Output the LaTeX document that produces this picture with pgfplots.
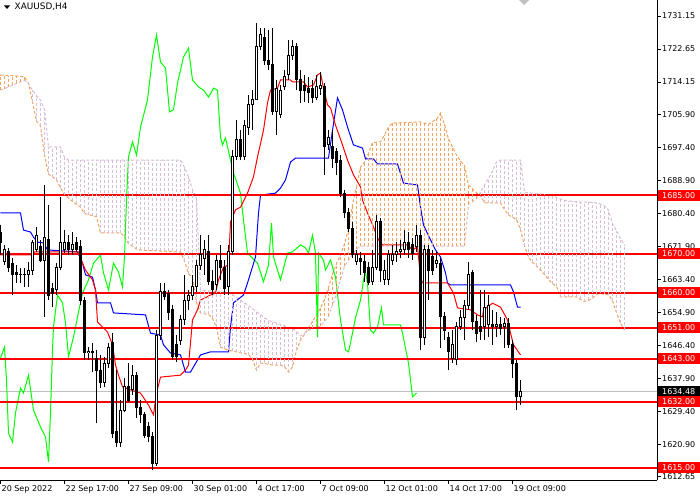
\documentclass[border=0pt]{standalone}
\usepackage{fontspec}
\setmainfont{DejaVu Sans}
\usepackage{pgfplots}
\pgfplotsset{compat=1.18}
\usepackage{pgfplotstable}

\definecolor{sandy}{RGB}{244,164,96}
\definecolor{thistl}{RGB}{216,191,216}
\definecolor{chikou}{RGB}{0,255,0}
\definecolor{kijun}{RGB}{0,0,255}
\definecolor{tenkan}{RGB}{255,0,0}
\definecolor{lvl}{RGB}{255,0,0}
\definecolor{pricegray}{RGB}{192,192,192}

% candle parts and cloud hatch; 3.8888pt per dollar on the price axis
\pgfdeclareplotmark{wick}{%
  \pgfmathsetlengthmacro\wl{\wicklen*3.8888}%
  \pgfpathmoveto{\pgfqpoint{0pt}{0pt}}%
  \pgfpathlineto{\pgfqpoint{0pt}{\wl}}%
  \pgfusepathqstroke}
\pgfdeclareplotmark{body}{%
  \pgfmathsetlengthmacro\bl{\bodylen*3.8888+1}%
  \pgfpathrectangle{\pgfqpoint{-1.5pt}{-0.5pt}}{\pgfqpoint{3pt}{\bl}}%
  \pgfusepathqfill}
\pgfdeclareplotmark{hollow}{%
  \pgfmathsetlengthmacro\hl{\bodyup*3.8888-1}%
  \ifdim\hl>0pt
    \pgfpathrectangle{\pgfqpoint{-0.5pt}{0.5pt}}{\pgfqpoint{1pt}{\hl}}%
    \pgfusepathqfill
  \fi}
\pgfdeclareplotmark{hatch}{%
  \pgfmathsetlengthmacro\ch{\cloudh*3.8888}%
  \ifdim\ch>0.6pt
    \pgfsetdash{{3pt}{2pt}}{0pt}%
    \pgfpathmoveto{\pgfqpoint{0pt}{0pt}}%
    \pgfpathlineto{\pgfqpoint{0pt}{\ch}}%
    \pgfusepathqstroke
  \fi}

% XAUUSD H4 bars: index, open, high, low, close
\pgfplotstableread{
i o h l c
0 1675.6 1677.4 1669.7 1673.0
1 1667.9 1672.3 1667.1 1671.0
2 1670.5 1671.5 1665.3 1666.4
3 1667.6 1668.9 1659.4 1664.6
4 1665.1 1667.1 1662.5 1664.8
5 1664.8 1666.4 1662.5 1664.6
6 1664.6 1666.4 1661.5 1664.8
7 1664.6 1667.9 1661.5 1665.8
8 1665.8 1673.6 1664.6 1673.0
9 1671.0 1676.9 1670.5 1674.8
10 1671.8 1673.6 1667.9 1668.4
11 1668.4 1687.7 1653.8 1674.3
12 1673.6 1682.6 1658.1 1659.4
13 1661.2 1662.5 1656.3 1659.9
14 1660.7 1667.6 1659.4 1666.4
15 1666.4 1684.6 1665.8 1673.0
16 1671.0 1676.1 1670.2 1672.8
17 1672.8 1674.8 1669.7 1671.0
18 1671.0 1675.6 1669.7 1672.3
19 1672.8 1674.3 1670.5 1671.0
20 1671.8 1673.6 1656.8 1658.1
21 1658.1 1658.9 1642.7 1644.5
22 1644.5 1646.0 1642.7 1644.8
23 1644.8 1647.1 1639.6 1644.5
24 1643.2 1645.3 1626.5 1640.1
25 1640.1 1644.0 1635.5 1636.8
26 1636.8 1643.5 1635.8 1641.9
27 1641.9 1647.1 1640.6 1646.0
28 1647.1 1649.6 1622.6 1623.9
29 1624.2 1640.1 1620.3 1621.4
30 1621.4 1632.4 1620.3 1629.8
31 1629.8 1638.1 1629.3 1635.8
32 1635.8 1641.9 1631.9 1632.4
33 1635.0 1641.4 1633.7 1638.8
34 1638.8 1639.6 1627.8 1630.6
35 1630.6 1632.4 1626.5 1628.6
36 1628.6 1629.3 1622.6 1623.4
37 1625.5 1626.8 1621.6 1622.9
38 1622.9 1624.2 1614.4 1616.2
39 1616.2 1650.4 1615.4 1649.1
40 1649.1 1662.5 1647.8 1660.2
41 1660.2 1662.5 1658.1 1658.9
42 1659.9 1660.7 1653.0 1655.0
43 1655.6 1656.8 1642.7 1643.5
44 1646.6 1649.1 1642.2 1643.5
45 1647.8 1654.3 1646.6 1653.0
46 1653.0 1664.6 1651.7 1658.1
47 1658.1 1660.7 1655.6 1659.4
48 1659.4 1664.6 1658.1 1661.5
49 1661.5 1668.4 1660.2 1667.1
50 1667.1 1674.8 1665.8 1669.7
51 1668.9 1673.6 1664.6 1671.0
52 1670.5 1674.8 1662.0 1662.8
53 1662.8 1665.8 1659.4 1660.7
54 1662.0 1669.7 1660.7 1668.4
55 1668.4 1672.3 1663.3 1666.6
56 1666.6 1668.4 1659.4 1661.2
57 1661.5 1672.3 1659.4 1670.5
58 1670.5 1696.7 1669.7 1694.9
59 1694.9 1704.4 1694.1 1699.3
60 1699.3 1701.8 1694.1 1694.9
61 1694.9 1704.4 1694.1 1703.1
62 1702.6 1710.8 1700.6 1708.3
63 1708.3 1712.1 1701.8 1709.8
64 1709.8 1729.4 1709.6 1723.2
65 1723.2 1728.1 1722.4 1726.3
66 1725.5 1728.1 1718.6 1719.8
67 1719.8 1727.6 1717.3 1718.6
68 1718.6 1728.1 1705.7 1706.5
69 1706.5 1714.7 1700.6 1712.6
70 1705.7 1713.4 1704.9 1712.1
71 1712.9 1717.3 1712.1 1715.5
72 1716.0 1725.0 1714.7 1721.1
73 1721.1 1725.0 1719.8 1723.2
74 1723.2 1724.2 1712.1 1714.7
75 1714.7 1717.3 1708.8 1712.1
76 1713.4 1716.0 1709.0 1712.1
77 1712.6 1715.5 1708.8 1711.6
78 1712.6 1714.7 1708.8 1710.3
79 1710.3 1716.0 1709.6 1712.9
80 1712.6 1716.8 1710.8 1713.4
81 1712.9 1713.9 1690.3 1697.5
82 1698.0 1701.8 1696.7 1699.8
83 1697.5 1701.8 1692.1 1694.6
84 1696.2 1697.2 1690.3 1693.6
85 1694.1 1695.4 1684.6 1685.6
86 1685.6 1686.4 1679.2 1680.5
87 1680.5 1681.8 1675.6 1676.6
88 1676.6 1678.2 1668.9 1669.7
89 1667.9 1671.0 1667.1 1669.7
90 1668.9 1670.5 1664.6 1667.9
91 1667.9 1669.7 1662.8 1665.1
92 1666.4 1667.9 1662.0 1662.5
93 1662.8 1671.0 1662.0 1666.6
94 1666.6 1680.0 1665.8 1678.2
95 1678.2 1679.2 1662.8 1665.8
96 1663.3 1668.4 1662.0 1665.8
97 1663.3 1671.0 1662.0 1669.7
98 1668.4 1672.3 1667.1 1669.7
99 1669.7 1673.0 1667.9 1670.5
100 1670.5 1673.6 1668.9 1671.0
101 1671.0 1676.1 1669.7 1672.8
102 1672.8 1675.6 1668.9 1671.0
103 1672.3 1674.1 1668.4 1670.2
104 1671.8 1677.4 1670.5 1674.8
105 1674.8 1676.1 1645.3 1648.4
106 1648.4 1672.3 1646.6 1671.0
107 1671.0 1672.3 1658.1 1665.8
108 1669.2 1671.0 1664.6 1665.8
109 1667.6 1670.5 1666.4 1668.4
110 1667.6 1668.9 1645.8 1653.8
111 1653.8 1655.0 1647.8 1650.4
112 1648.4 1649.9 1640.1 1644.8
113 1643.2 1650.4 1641.9 1646.6
114 1642.7 1652.5 1641.4 1651.2
115 1651.2 1655.6 1650.4 1653.5
116 1653.5 1658.1 1647.8 1656.8
117 1656.8 1667.9 1655.6 1664.6
118 1665.1 1665.8 1650.4 1652.5
119 1652.5 1654.3 1647.3 1649.6
120 1651.2 1660.7 1647.8 1649.9
121 1651.2 1660.7 1647.8 1656.3
122 1651.7 1659.4 1648.6 1656.8
123 1651.7 1655.6 1646.6 1651.2
124 1651.2 1655.0 1648.6 1651.7
125 1651.7 1653.8 1649.1 1650.9
126 1651.2 1653.5 1645.8 1652.2
127 1652.2 1653.5 1645.8 1646.6
128 1646.6 1647.8 1638.1 1641.9
129 1641.9 1642.7 1629.8 1633.2
130 1633.2 1637.6 1631.1 1634.48
}\candles

% Ichimoku cloud: Senkou span A and B at each bar
\pgfplotstableread{
x a b
0 1716.0 1712.1
1 1715.9 1712.5
2 1715.8 1712.9
3 1715.8 1713.4
4 1715.7 1713.8
5 1715.6 1714.2
6 1715.5 1714.6
7 1713.9 1713.8
8 1709.0 1712.0
9 1704.1 1710.7
10 1702.9 1709.5
11 1695.4 1707.1
12 1690.5 1697.5
13 1689.8 1697.5
14 1689.0 1697.5
15 1687.0 1697.5
16 1685.2 1694.8
17 1684.3 1694.1
18 1683.5 1694.1
19 1682.7 1694.1
20 1682.0 1694.1
21 1680.4 1694.1
22 1680.1 1694.1
23 1679.8 1694.1
24 1679.6 1694.1
25 1675.4 1694.1
26 1675.4 1694.1
27 1675.4 1694.1
28 1675.4 1694.1
29 1675.4 1694.1
30 1675.4 1694.1
31 1674.4 1694.1
32 1672.6 1694.1
33 1672.0 1694.1
34 1671.2 1694.1
35 1671.0 1694.1
36 1670.9 1694.1
37 1670.9 1694.1
38 1670.8 1694.1
39 1670.8 1694.1
40 1670.7 1694.1
41 1670.7 1694.1
42 1670.6 1694.1
43 1670.6 1694.1
44 1670.5 1694.1
45 1670.5 1694.1
46 1668.2 1692.2
47 1664.9 1689.9
48 1663.8 1686.4
49 1657.5 1684.3
50 1654.8 1660.7
51 1654.6 1660.6
52 1654.4 1660.5
53 1653.4 1660.4
54 1651.1 1660.3
55 1646.0 1660.2
56 1645.6 1660.1
57 1645.2 1660.0
58 1645.0 1659.5
59 1644.8 1658.8
60 1644.6 1658.1
61 1644.4 1657.4
62 1644.1 1656.7
63 1642.8 1655.9
64 1640.1 1655.1
65 1641.9 1654.4
66 1641.8 1653.6
67 1641.6 1652.9
68 1641.4 1652.5
69 1641.4 1652.2
70 1641.4 1651.8
71 1641.0 1651.5
72 1639.6 1651.1
73 1640.9 1650.7
74 1645.2 1650.1
75 1647.8 1648.9
76 1649.3 1649.6
77 1650.8 1650.3
78 1652.6 1650.8
79 1654.3 1651.1
80 1656.1 1651.4
81 1658.3 1652.6
82 1661.4 1653.9
83 1664.8 1656.9
84 1667.5 1659.6
85 1669.7 1663.3
86 1672.6 1666.8
87 1676.4 1668.4
88 1682.6 1669.9
89 1687.3 1671.2
90 1692.3 1672.0
91 1693.6 1672.0
92 1695.9 1672.0
93 1698.6 1672.0
94 1698.7 1672.0
95 1698.8 1672.0
96 1700.6 1672.0
97 1702.6 1672.0
98 1703.6 1672.0
99 1703.7 1672.0
100 1703.7 1672.0
101 1703.8 1672.0
102 1703.8 1672.0
103 1703.8 1672.0
104 1703.9 1672.0
105 1703.9 1672.0
106 1703.6 1672.0
107 1703.3 1672.0
108 1704.0 1672.0
109 1704.6 1672.0
110 1706.2 1672.0
111 1703.3 1672.0
112 1699.5 1672.0
113 1697.5 1672.0
114 1695.4 1672.0
115 1693.9 1672.0
116 1692.6 1672.0
117 1687.7 1682.9
118 1686.7 1683.4
119 1685.7 1684.2
120 1685.0 1685.9
121 1683.1 1687.7
122 1683.1 1689.4
123 1683.1 1691.3
124 1683.1 1693.6
125 1683.1 1694.1
126 1681.4 1694.1
127 1680.0 1694.1
128 1679.4 1694.1
129 1678.8 1694.1
130 1676.2 1694.1
131 1672.0 1685.8
132 1669.1 1685.7
133 1667.8 1685.6
134 1666.9 1685.5
135 1665.8 1685.4
136 1664.7 1685.3
137 1663.4 1685.2
138 1662.3 1684.9
139 1661.7 1684.5
140 1658.9 1684.1
141 1658.9 1683.8
142 1658.9 1683.6
143 1658.9 1683.5
144 1658.9 1683.4
145 1658.3 1683.3
146 1657.7 1683.3
147 1658.0 1683.2
148 1658.6 1683.2
149 1659.6 1683.1
150 1659.8 1682.8
151 1659.6 1682.3
152 1659.5 1681.2
153 1657.9 1677.8
154 1654.9 1675.9
155 1652.2 1673.9
156 1650.4 1672.3
}\cloud

% Tenkan-sen
\pgfplotstableread{
x y
0 1669.7
8 1669.7
8.5 1670.5
19.5 1670.5
20 1668.9
21.25 1665.8
23 1663.3
23.75 1660.7
24.25 1652.5
25 1651.7
26.75 1649.9
28 1646.6
28.75 1641.4
29.5 1638.8
30.5 1635.8
32.5 1635.0
35 1634.2
37 1631.1
38.25 1628.6
39 1634.2
40 1638.3
45 1638.8
46.25 1640.1
47 1641.4
47.5 1647.1
48 1653.0
49.25 1655.6
50 1658.1
52.5 1659.4
53.75 1659.9
54.5 1663.3
55.75 1666.6
57 1667.1
57.5 1678.2
58.75 1681.3
60 1682.0
61.75 1685.6
63.25 1689.8
64.25 1694.9
65.75 1701.8
66.75 1708.8
67.5 1712.1
69.25 1712.6
70 1714.7
72.5 1714.7
73 1714.2
75.75 1714.2
76.75 1712.9
78.25 1713.4
79.25 1716.0
80 1716.5
80.75 1712.6
81.75 1708.3
82.5 1707.5
83.75 1703.1
85.5 1698.0
86.75 1694.1
88.25 1690.3
90 1687.2
90.5 1683.8
91.75 1680.5
93.25 1676.9
94.5 1673.6
95.5 1672.3
101.75 1672.3
103 1671.0
104.25 1671.8
105 1664.0
105.5 1662.5
111.75 1662.5
113.25 1659.9
114.25 1656.1
117.5 1655.6
119.25 1654.3
120.5 1653.8
120.75 1655.6
123 1657.3
125 1656.3
126.75 1653.0
127.5 1649.6
128.25 1646.6
130 1644.0
}\tenkan

% Kijun-sen
\pgfplotstableread{
x y
0 1680.5
5 1680.5
5.75 1676.1
7.5 1675.6
8.25 1674.3
9.25 1673.0
10.75 1672.8
11.75 1671.0
19.25 1670.5
20.5 1667.6
21.25 1664.6
23 1664.0
23.75 1660.7
24.25 1657.4
27.5 1657.4
28.25 1654.8
36.25 1654.3
37.5 1649.6
40 1649.1
40.75 1646.6
42.5 1644.5
45 1644.0
46.25 1639.6
47.5 1639.6
50 1644.0
52.5 1644.8
57 1644.8
57.5 1651.2
58.25 1657.4
60.75 1659.4
62 1663.3
63.75 1669.2
64.5 1680.5
65 1685.1
68.75 1685.6
70 1686.9
71.25 1689.0
72.5 1693.6
73.75 1694.6
82 1694.6
83 1701.8
84.25 1710.1
85.5 1707.0
87 1701.8
88.25 1698.0
90.5 1697.2
91.25 1694.4
93.25 1694.4
94.25 1693.1
99.25 1693.1
100.75 1688.2
104.25 1687.7
105 1682.0
105.75 1677.4
107.5 1673.6
108.75 1671.0
110 1669.2
111.25 1665.1
111.75 1662.5
112.5 1662.0
127.5 1662.0
128.25 1660.2
129.25 1656.3
130 1656.3
}\kijun

% Chikou span
\pgfplotstableread{
x y
0 1643.2
1 1646.0
1.5 1637.6
2 1623.9
3 1621.6
3.75 1629.1
5 1635.5
5.75 1634.2
7 1638.8
8.25 1629.8
10 1625.5
11.25 1622.9
12 1616.5
12.5 1629.1
13 1645.3
13.25 1651.2
14.25 1659.4
15.5 1657.4
16.25 1652.2
17 1643.5
18.25 1648.6
19.5 1655.0
20.5 1659.9
22 1663.3
23.25 1667.6
25 1669.7
25.75 1665.1
27 1660.7
28.25 1667.6
29.5 1665.3
30.5 1661.5
31 1669.2
31.5 1683.8
32 1694.9
33 1698.8
34 1695.4
35 1702.6
36.75 1709.6
38 1720.6
39 1726.3
40 1719.3
41.25 1717.8
42.25 1706.5
43.25 1707.0
44.25 1713.9
45.75 1720.6
47 1722.9
48 1714.7
49.5 1712.9
50.75 1712.1
52 1710.3
53.25 1712.6
54.25 1712.1
55 1700.0
55.5 1698.0
56.25 1699.8
57.5 1694.1
58.25 1690.8
60 1685.6
60.75 1678.7
61.75 1670.2
63 1668.9
64.25 1667.6
65.75 1662.8
67 1667.1
67.75 1677.9
68.25 1669.2
69.25 1665.8
70 1663.3
71.75 1670.2
73 1670.5
75 1672.3
76.25 1671.5
77 1670.2
78 1674.8
78.75 1670.2
79.25 1648.6
79.5 1670.2
80.75 1668.4
81.25 1665.8
82.5 1668.4
83.75 1664.0
85 1653.0
86.25 1645.3
87 1644.8
87.5 1647.1
88.75 1653.5
90 1658.1
90.75 1663.3
91.25 1665.3
91.75 1662.5
92.5 1650.4
93.25 1649.6
94.25 1651.2
95.25 1656.1
95.75 1651.7
100 1651.7
100.5 1649.6
102 1641.9
103 1633.2
104 1634.2
}\chikou

\begin{document}
\begin{tikzpicture}
\fill[white] (0,-20pt) rectangle (700pt,480pt);
\begin{axis}[
    at={(0,0)}, anchor=south west,
    scale only axis,
    width=657pt, height=480pt,
    xmin=-0.125, xmax=164.125,
    ymin=1611.84, ymax=1735.27,
    axis x line*=bottom, axis y line*=right,
    axis line style={-, black, line width=1pt},
    tick align=outside, major tick length=4pt,
    tick style={black, line width=0.8pt},
    xtick={0,16,32,48,64,80,96,112,128},
    xticklabels={20 Sep 2022, 22 Sep 17:00, 27 Sep 09:00, 30 Sep 01:00, 4 Oct 17:00, 7 Oct 09:00, 12 Oct 01:00, 14 Oct 17:00, 19 Oct 09:00},
    ytick={1612.65,1620.90,1629.40,1637.90,1646.40,1654.90,1663.40,1671.90,1680.40,1688.90,1697.40,1705.90,1714.15,1722.65,1731.15},
    yticklabels={1612.65,1620.90,1629.40,1637.90,1646.40,1654.90,1663.40,1671.90,1680.40,1688.90,1697.40,1705.90,1714.15,1722.65,1731.15},
    tick label style={font=\fontsize{8}{9}\selectfont, text=black},
    xticklabel style={anchor=north west, inner sep=1pt},
    yticklabel style={anchor=west, inner sep=1pt},
    /pgf/number format/assume math mode=true,
]
% cloud hatch: sandy where span A is above span B, thistle otherwise
\addplot[only marks, mark=hatch, sandy, line width=1pt,
    visualization depends on={max(\thisrow{a}-\thisrow{b},0) \as \cloudh}]
    table[x=x, y=b] {\cloud};
\addplot[only marks, mark=hatch, thistl, line width=1pt,
    visualization depends on={max(\thisrow{b}-\thisrow{a},0) \as \cloudh}]
    table[x=x, y=a] {\cloud};
\addplot[sandy, line width=1pt, dash pattern=on 3pt off 2pt] table[x=x, y=a] {\cloud};
\addplot[thistl, line width=1pt, dash pattern=on 3pt off 2pt] table[x=x, y=b] {\cloud};
% current price
\addplot[pricegray, line width=1pt] coordinates {(-1,1634.48) (170,1634.48)};
% candles: wick, body, hollow centre of rising bars
\addplot[only marks, mark=wick, black, line width=1pt,
    visualization depends on={\thisrow{h}-\thisrow{l} \as \wicklen}]
    table[x=i, y=l] {\candles};
\addplot[only marks, mark=body, black,
    visualization depends on={abs(\thisrow{c}-\thisrow{o}) \as \bodylen}]
    table[x=i, y expr={min(\thisrow{o},\thisrow{c})}] {\candles};
\addplot[only marks, mark=hollow, white,
    visualization depends on={max(\thisrow{c}-\thisrow{o},0) \as \bodyup}]
    table[x=i, y expr={min(\thisrow{o},\thisrow{c})}] {\candles};
% ichimoku lines
\addplot[chikou, line width=1pt] table {\chikou};
\addplot[kijun, line width=1pt] table {\kijun};
\addplot[tenkan, line width=1pt] table {\tenkan};
% levels
\pgfplotsinvokeforeach{1685,1670,1660,1651,1643,1632,1615}{
  \addplot[lvl, line width=2pt] coordinates {(-1,#1) (170,#1)};
}
\coordinate (cp) at (axis cs:164.125,1634.48);
\coordinate (r1) at (axis cs:164.125,1685);
\coordinate (r2) at (axis cs:164.125,1670);
\coordinate (r3) at (axis cs:164.125,1660);
\coordinate (r4) at (axis cs:164.125,1651);
\coordinate (r5) at (axis cs:164.125,1643);
\coordinate (r6) at (axis cs:164.125,1632);
\coordinate (r7) at (axis cs:164.125,1615);
\end{axis}
\fill[black] (cp) ++(0.5pt,-5.5pt) rectangle ++(42.5pt,11pt);
\node[anchor=west, text=white, inner sep=0pt, font=\fontsize{8}{9}\selectfont] at ([xshift=5pt]cp) {1634.48};
\foreach \n/\t in {r1/1685.00, r2/1670.00, r3/1660.00, r4/1651.00, r5/1643.00, r6/1632.00, r7/1615.00}{
  \fill[lvl] (\n) ++(0.5pt,-5.5pt) rectangle ++(42.5pt,11pt);
  \node[anchor=west, text=white, inner sep=0pt, font=\fontsize{8}{9}\selectfont] at ([xshift=5pt]\n) {\t};
}
% title and shift marker
\fill[black] (4pt,474.5pt) -- (10pt,474.5pt) -- (7pt,471pt) -- cycle;
\node[anchor=west, inner sep=0pt, font=\fontsize{8.9}{10}\selectfont] at (14.5pt,472.8pt) {XAUUSD,H4};
\fill[pricegray] (519pt,480pt) -- (529pt,480pt) -- (524pt,475pt) -- cycle;
\pgfresetboundingbox
\useasboundingbox (0,-20pt) rectangle (700pt,480pt);
\end{tikzpicture}
\end{document}
